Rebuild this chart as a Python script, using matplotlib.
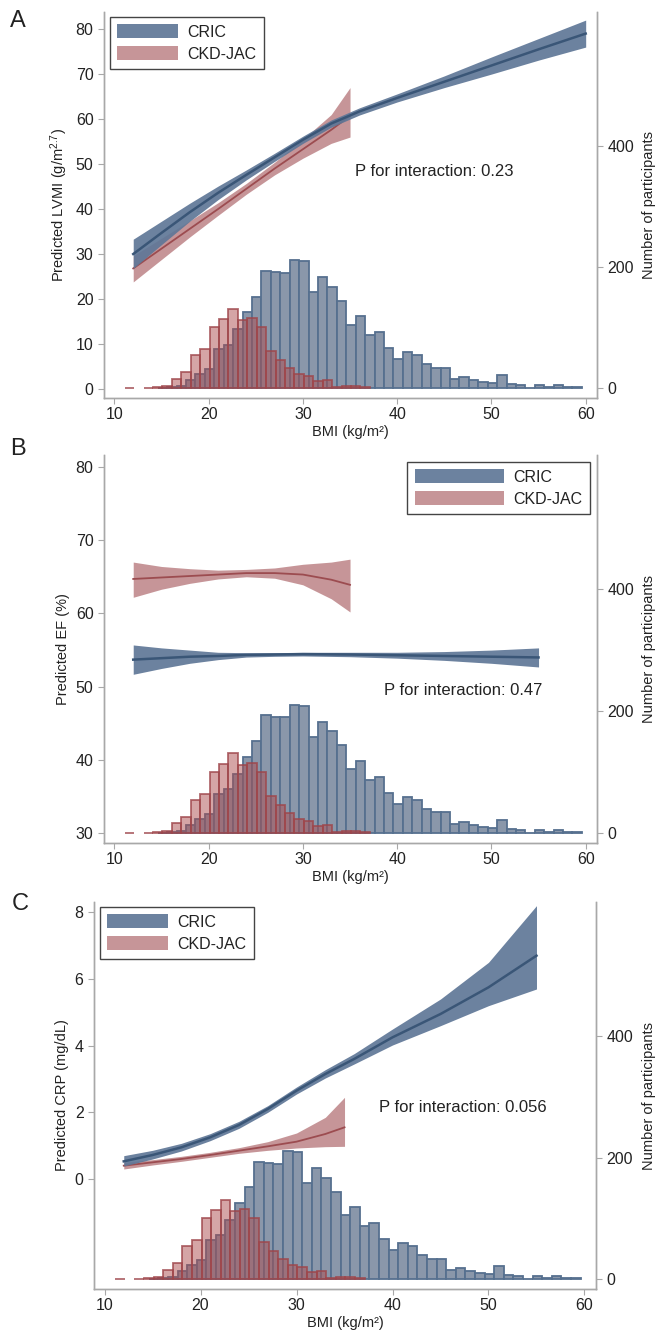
import matplotlib
matplotlib.use('Agg')
import matplotlib.pyplot as plt
from matplotlib.patches import Patch
import numpy as np

plt.rcParams['font.family'] = ['Liberation Sans', 'DejaVu Sans']
plt.rcParams['mathtext.default'] = 'regular'

# ---- histogram data (participants per 1 kg/m2 BMI bin) ----
cric_bin_start = 14.6
cric_counts = [1, 2, 4, 14, 24, 32, 65, 72, 97, 125,
               151, 193, 191, 190, 211, 209, 158, 183, 167, 144,
               105, 119, 88, 92, 66, 48, 59, 55, 40, 34,
               34, 15, 19, 14, 10, 8, 22, 7, 6, 1,
               6, 2, 5, 2, 2]
jac_bin_start = 11.1
jac_counts = [1, 0, 1, 2, 3, 16, 27, 55, 65, 101,
              114, 131, 112, 115, 101, 61, 47, 33, 23, 20,
              12, 13, 2, 4, 3, 2]

# ---- predicted curves ----
# A: LVMI
a_cric_bmi = [12, 15, 18, 21, 24, 27, 30, 33, 36, 40, 45, 50, 55, 60]
a_cric_mean = [30.0, 34.7, 39.3, 43.6, 47.6, 51.5, 55.4, 59.0, 61.7, 64.7, 68.3, 71.9, 75.5, 79.0]
a_cric_lo = [26.8, 32.1, 37.3, 42.1, 46.5, 50.6, 54.6, 58.2, 60.9, 63.8, 67.0, 70.0, 73.1, 76.0]
a_cric_hi = [33.3, 37.3, 41.3, 45.1, 48.7, 52.4, 56.2, 59.8, 62.5, 65.6, 69.6, 73.8, 77.9, 82.0]
a_jac_bmi = [12, 15, 18, 21, 24, 27, 30, 33, 35]
a_jac_mean = [26.8, 31.2, 35.6, 40.0, 44.5, 49.0, 53.3, 57.6, 60.7]
a_jac_lo = [23.8, 28.8, 33.8, 38.6, 43.3, 47.6, 51.3, 54.6, 56.0]
a_jac_hi = [29.6, 33.5, 37.4, 41.4, 45.7, 50.4, 55.5, 61.0, 67.0]

# B: EF
b_cric_bmi = [12, 15, 18, 21, 24, 27, 30, 35, 40, 45, 50, 55]
b_cric_mean = [53.7, 53.9, 54.1, 54.2, 54.35, 54.4, 54.45, 54.4, 54.3, 54.2, 54.1, 54.0]
b_cric_lo = [51.7, 52.5, 53.2, 53.7, 54.05, 54.15, 54.2, 54.1, 53.9, 53.6, 53.2, 52.7]
b_cric_hi = [55.7, 55.3, 55.0, 54.7, 54.65, 54.65, 54.7, 54.7, 54.7, 54.8, 55.0, 55.3]
b_jac_bmi = [12, 15, 18, 21, 24, 27, 30, 33, 35]
b_jac_mean = [64.7, 64.9, 65.1, 65.3, 65.5, 65.5, 65.3, 64.6, 63.9]
b_jac_lo = [62.2, 63.3, 64.1, 64.7, 65.0, 64.8, 63.9, 62.0, 60.2]
b_jac_hi = [67.0, 66.4, 66.1, 65.9, 66.0, 66.2, 66.7, 67.0, 67.4]

# C: CRP
c_cric_bmi = [12, 15, 18, 21, 24, 27, 30, 33, 36, 40, 45, 50, 55]
c_cric_mean = [0.53, 0.72, 0.95, 1.25, 1.62, 2.1, 2.65, 3.15, 3.6, 4.25, 4.95, 5.75, 6.7]
c_cric_lo = [0.39, 0.6, 0.84, 1.15, 1.52, 2.0, 2.55, 3.03, 3.45, 4.02, 4.6, 5.2, 5.7]
c_cric_hi = [0.7, 0.86, 1.07, 1.36, 1.73, 2.2, 2.76, 3.28, 3.76, 4.5, 5.4, 6.5, 8.2]
c_jac_bmi = [12, 15, 18, 21, 24, 27, 30, 33, 35]
c_jac_mean = [0.4, 0.5, 0.6, 0.72, 0.85, 0.98, 1.12, 1.35, 1.55]
c_jac_lo = [0.3, 0.42, 0.53, 0.65, 0.77, 0.86, 0.93, 0.97, 0.98]
c_jac_hi = [0.5, 0.58, 0.68, 0.8, 0.94, 1.12, 1.38, 1.85, 2.45]

panels = [
    dict(letter='A', ylabel='Predicted LVMI (g/m$^{2.7}$)', ylim=(-2, 83.8), yticks=list(range(0, 81, 10)),
         curves=(a_cric_bmi, a_cric_mean, a_cric_lo, a_cric_hi, a_jac_bmi, a_jac_mean, a_jac_lo, a_jac_hi),
         ptext='P for interaction: 0.23', ppos=(434, 172), legend_loc='left', hlen=3.8),
    dict(letter='B', ylabel='Predicted EF (%)', ylim=(28.7, 81.6), yticks=list(range(30, 81, 10)),
         curves=(b_cric_bmi, b_cric_mean, b_cric_lo, b_cric_hi, b_jac_bmi, b_jac_mean, b_jac_lo, b_jac_hi),
         ptext='P for interaction: 0.47', ppos=(463, 690), legend_loc='right', hlen=5.6),
    dict(letter='C', ylabel='Predicted CRP (mg/dL)', ylim=(-3.3, 8.31), yticks=[0, 2, 4, 6, 8],
         curves=(c_cric_bmi, c_cric_mean, c_cric_lo, c_cric_hi, c_jac_bmi, c_jac_mean, c_jac_lo, c_jac_hi),
         ptext='P for interaction: 0.056', ppos=(463, 1107), legend_loc='left', hlen=3.8),
]

W, H = 657, 1336
fig = plt.figure(figsize=(W / 100, H / 100), dpi=100)

# axes boxes in pixels: left, right, top, bottom
boxes = [(104, 597, 12, 398), (104, 597, 455, 843), (94, 596, 902, 1289)]
letter_pos = [(18, 21), (18, 449), (20, 904)]

cric_band = '#5f7797'
cric_line = '#3a5677'
jac_band = '#c08a8d'
jac_line = '#9c4c50'
spine_col = '#a8a8a8'
txt_col = '#222222'

# skip empty bins so no flat edge is drawn there
cric_x = [cric_bin_start + i for i, c in enumerate(cric_counts) if c > 0]
cric_h = [c for c in cric_counts if c > 0]
jac_x = [jac_bin_start + i for i, c in enumerate(jac_counts) if c > 0]
jac_h = [c for c in jac_counts if c > 0]

for p, box, lp in zip(panels, boxes, letter_pos):
    l, r, t, b = box
    ax = fig.add_axes([l / W, 1 - b / H, (r - l) / W, (b - t) / H])
    ax2 = ax.twinx()

    # histograms on the right axis
    ax2.bar(cric_x, cric_h, width=1.0, align='edge',
            facecolor='#8a97aa', edgecolor='#56708f', linewidth=1.3, zorder=1)
    ax2.bar(jac_x, jac_h, width=1.0, align='edge',
            facecolor=(0.68, 0.30, 0.31, 0.5), edgecolor=(0.62, 0.27, 0.29, 0.8), linewidth=1.3, zorder=2)
    ax2.set_ylim(-16, 620)
    ax2.set_yticks([0, 200, 400])

    cb, cm, clo, chi, jb, jm, jlo, jhi = p['curves']
    ax.set_zorder(ax2.get_zorder() + 1)
    ax.patch.set_visible(False)
    ax.fill_between(jb, jlo, jhi, color=jac_band, alpha=0.9, linewidth=0, zorder=2)
    ax.plot(jb, jm, color=jac_line, lw=1.3, zorder=3)
    ax.fill_between(cb, clo, chi, color=cric_band, alpha=0.92, linewidth=0, zorder=4)
    ax.plot(cb, cm, color=cric_line, lw=1.8, zorder=5)

    ax.set_xlim(8.9, 61.2)
    ax.set_ylim(*p['ylim'])
    ax.set_xticks([10, 20, 30, 40, 50, 60])
    ax.set_yticks(p['yticks'])

    for a in (ax, ax2):
        a.spines['top'].set_visible(False)
        for s in ('left', 'right', 'bottom'):
            a.spines[s].set_color(spine_col)
            a.spines[s].set_linewidth(1.0)
        a.tick_params(colors=spine_col, labelcolor=txt_col, labelsize=11.5, length=4, width=0.8)
    ax.tick_params(axis='x', pad=2.5)

    ax.set_ylabel(p['ylabel'], fontsize=10.5, color=txt_col, labelpad=4)
    ax.set_xlabel('BMI (kg/m²)', fontsize=10.5, color=txt_col, labelpad=2)
    ax2.set_ylabel('Number of participants', fontsize=10.5, color=txt_col, labelpad=6)

    fig.text(p['ppos'][0] / W, 1 - p['ppos'][1] / H, p['ptext'], fontsize=12, color=txt_col,
             ha='center', va='center')
    fig.text(lp[0] / W, 1 - lp[1] / H, p['letter'], fontsize=17, color=txt_col, ha='center', va='center')

    handles = [Patch(facecolor=cric_band, edgecolor='none', alpha=0.92),
               Patch(facecolor=jac_band, edgecolor='none', alpha=0.9)]
    if p['legend_loc'] == 'left':
        loc, anchor = 'upper left', (6 / (r - l), 1 - 5 / (b - t))
    else:
        loc, anchor = 'upper right', (1 - 7 / (r - l), 1 - 7 / (b - t))
    leg = ax.legend(handles, ['CRIC', 'CKD-JAC'], loc=loc, bbox_to_anchor=anchor, fontsize=11.5,
                    handlelength=p['hlen'], handleheight=1.0, handletextpad=0.6, labelspacing=0.4,
                    borderpad=0.45, borderaxespad=0, fancybox=False, framealpha=1)
    leg.get_frame().set_edgecolor('#444444')
    leg.get_frame().set_linewidth(1.0)
    leg.set_zorder(10)
    for txt in leg.get_texts():
        txt.set_color(txt_col)

fig.savefig('out.png', dpi=100)
